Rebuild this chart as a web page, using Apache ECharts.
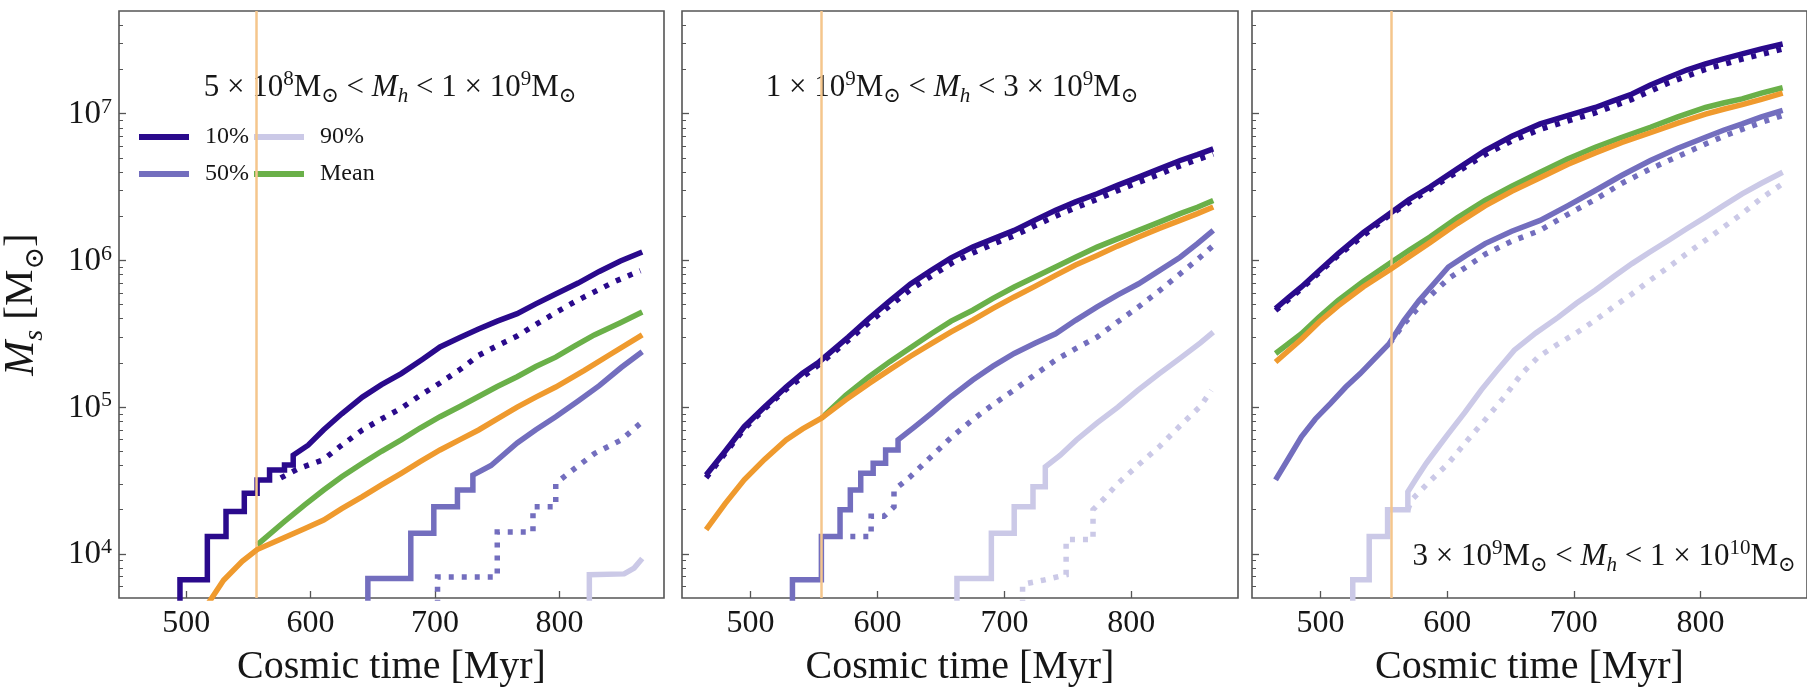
<!DOCTYPE html>
<html>
<head>
<meta charset="utf-8">
<script src="https://cdn.jsdelivr.net/npm/echarts@6/dist/echarts.min.js"></script>
<style>
  html, body { margin: 0; padding: 0; background: #ffffff; }
  #chart { width: 1807px; height: 695px; }
</style>
</head>
<body>
<div id="chart"></div>
<script>
// ---- axes ----------------------------------------------------------------
const timeTicks = [500, 600, 700, 800];          // Myr
const massDecades = [4, 5, 6, 7];                // labelled powers of ten
const timeRange = [446, 884];
const massRange = [5e3, 5e7];
const transitionTime = 556;                      // vertical marker, Myr

// ---- panel 1 : 5e8 < Mh < 1e9 ---------------------------------------------
const p1Solid10 = [[495, 4500], [495, 6650], [517, 6650], [517, 13100], [532, 13100], [532, 19400],
  [546.7, 19400], [546.7, 25900], [557, 25900], [557, 31900], [567, 31900], [567, 37200], [579, 37200],
  [579, 40300], [586, 40300], [586, 47000], [598, 55000], [610.5, 70000], [625, 90000], [641.6, 117000],
  [657, 142000], [672.8, 169000], [690, 212000], [704, 257000], [720, 298000], [735, 340000],
  [750, 385000], [766, 433000], [781, 505000], [797, 590000], [815, 700000], [832, 840000],
  [849, 990000], [866.5, 1140000]];
const p1Dotted10 = [[576, 32900], [590, 38000], [610, 43700], [625, 55000], [641.6, 69800], [657, 83000],
  [672.6, 98000], [688, 120000], [704, 146000], [720, 180000], [735, 225000], [750, 262000],
  [766, 305000], [781, 365000], [797, 440000], [812, 520000], [828, 610000], [845, 720000], [865, 850000]];
const p1Solid50 = [[646, 4500], [646, 6800], [680.5, 6800], [680.5, 13800], [699, 13800], [699, 20900],
  [718, 20900], [718, 27200], [730.4, 27200], [730.4, 34400], [745, 40000], [766, 56900], [781, 70000],
  [797, 86000], [815, 110000], [832, 140000], [849.6, 186000], [866.5, 238000]];
const p1Dotted50 = [[702, 4500], [702, 6960], [750, 6960], [750, 14100], [778.7, 14100], [778.7, 20900],
  [797, 20900], [797, 30200], [812, 38000], [828.4, 48400], [849.6, 59700], [865, 77500]];
const p1Solid90 = [[824, 4500], [824, 7200], [852, 7300], [860, 8000], [866.5, 9300]];
const p1Mean = [[557, 11500], [579, 16600], [595, 21500], [610.5, 27200], [625, 33500], [641.6, 41400],
  [657, 50000], [672.8, 59700], [688, 72000], [704, 86000], [720, 101000], [735, 118000],
  [750, 138000], [766, 161000], [781, 189000], [797, 219000], [812, 260000], [828, 310000],
  [849, 376000], [866.5, 445000]];
const p1Alt = [[517, 4500], [530, 6600], [545, 8900], [557, 10700], [579, 12900], [595, 14800],
  [610.5, 17000], [625, 20300], [641.6, 24500], [657, 29500], [672.8, 35400], [688, 42500],
  [704, 51000], [720, 60000], [735, 69800], [750, 83000], [766, 100000], [781, 117000],
  [797, 137000], [820, 178000], [841, 229000], [866.5, 310000]];

// ---- panel 2 : 1e9 < Mh < 3e9 ---------------------------------------------
const p2Solid10 = [[465, 34400], [480, 50000], [495, 73500], [511, 100000], [528, 137000], [541, 170000],
  [554, 203000], [577, 300000], [593, 400000], [609.7, 530000], [626, 690000], [642.4, 855000],
  [658, 1040000], [675, 1230000], [691, 1400000], [707.7, 1600000], [724, 1880000], [740.3, 2190000],
  [756, 2500000], [773, 2840000], [789, 3240000], [805.7, 3690000], [822, 4200000], [838.4, 4790000],
  [852, 5250000], [864.5, 5750000]];
const p2Dotted10 = [[465, 33000], [480, 48500], [495, 71000], [511, 97000], [528, 132000], [554, 195000],
  [577, 285000], [593, 375000], [609.7, 490000], [626, 630000], [642.4, 780000], [658, 950000],
  [675, 1120000], [691, 1290000], [707.7, 1470000], [724, 1720000], [740.3, 2000000], [756, 2280000],
  [773, 2600000], [789, 2980000], [805.7, 3400000], [822, 3850000], [838.4, 4400000], [852, 4850000],
  [864.5, 5300000]];
const p2Solid50 = [[533, 4500], [533, 6650], [555.8, 6650], [555.8, 13100], [570.5, 13100], [570.5, 20000],
  [578.6, 20000], [578.6, 27200], [586.8, 27200], [586.8, 35400], [596.6, 35400], [596.6, 41400],
  [606.4, 41400], [606.4, 51000], [616.2, 51000], [616.2, 59700], [629, 73000], [642.4, 90600],
  [658, 118000], [675, 153000], [691, 190000], [707.7, 232000], [724, 272000], [740.3, 316000],
  [756, 390000], [773, 482000], [789, 580000], [805.7, 692000], [822, 850000], [838.4, 1050000],
  [852, 1300000], [864.5, 1600000]];
const p2Dotted50 = [[578.6, 13100], [595, 13100], [595, 18000], [605, 18000], [613, 20900], [613, 27200],
  [625, 33000], [642.4, 46000], [658, 62000], [675, 82000], [691, 104000], [707.7, 131000],
  [724, 166000], [740.3, 209000], [756, 250000], [773, 300000], [789, 380000], [805.7, 482000],
  [822, 620000], [838.4, 810000], [852, 1010000], [864.5, 1260000]];
const p2Solid90 = [[662.6, 4500], [662.6, 6800], [689.7, 6800], [689.7, 13800], [707.7, 13800],
  [707.7, 20900], [722.5, 20900], [722.5, 28700], [732.2, 28700], [732.2, 39200], [744, 47000],
  [756.7, 59700], [773, 78000], [789.4, 100000], [805, 130000], [822, 169000], [838, 214000],
  [854.6, 275000], [864.5, 324000]];
const p2Dotted90 = [[714.3, 4500], [714.3, 6200], [730, 6600], [748.6, 7200], [748.6, 12500],
  [769.8, 12500], [769.8, 20000], [779, 24000], [789.4, 30200], [805, 40000], [822, 53700],
  [838, 74000], [854.6, 102000], [863, 130000]];
const p2Mean = [[555.8, 84000], [575, 120000], [593.4, 161000], [609.7, 204000], [626, 254000],
  [642.4, 316000], [658, 385000], [675, 457000], [691, 550000], [707.7, 658000], [724, 770000],
  [740.3, 900000], [756, 1050000], [773, 1230000], [789, 1400000], [805.7, 1600000], [822, 1820000],
  [838.4, 2080000], [852, 2300000], [864.5, 2560000]];
const p2Alt = [[465, 14600], [480, 22000], [495, 31900], [511, 44000], [528, 59700], [541, 71000],
  [555.8, 84000], [575, 112000], [593.4, 145000], [609.7, 180000], [626, 222000], [642.4, 271000],
  [658, 325000], [675, 391000], [691, 470000], [707.7, 563000], [724, 665000], [740.3, 790000],
  [756, 930000], [773, 1080000], [789, 1250000], [805.7, 1440000], [822, 1650000], [838.4, 1870000],
  [852, 2080000], [864.5, 2310000]];

// ---- panel 3 : 3e9 < Mh < 1e10 --------------------------------------------
const p3Solid10 = [[464.6, 469000], [475, 560000], [485, 658000], [499, 850000], [514, 1110000],
  [534, 1550000], [554.5, 2080000], [570, 2600000], [586.4, 3160000], [608, 4200000], [629.9, 5600000],
  [651, 7000000], [673.4, 8500000], [695, 9700000], [716.9, 11000000], [731, 12200000],
  [745.9, 13600000], [760, 15600000], [774.9, 17700000], [789, 19800000], [803.9, 21800000],
  [818, 23600000], [832.8, 25500000], [848, 27600000], [864.8, 29800000]];
const p3Dotted10 = [[464.6, 455000], [485, 640000], [514, 1080000], [554.5, 2030000], [586.4, 3050000],
  [608, 4000000], [629.9, 5250000], [651, 6500000], [673.4, 7800000], [695, 8900000],
  [716.9, 10100000], [745.9, 12500000], [774.9, 16200000], [803.9, 20000000], [832.8, 23500000],
  [864.8, 27500000]];
const p3Solid50 = [[464.6, 31900], [475, 45000], [485, 62800], [496, 83000], [508, 106000], [520, 137000],
  [531.4, 169000], [543, 215000], [554.5, 272000], [566, 390000], [577.7, 530000], [590, 700000],
  [601, 900000], [615, 1080000], [630, 1300000], [651, 1580000], [673.4, 1870000], [695, 2350000],
  [716.9, 2990000], [738, 3800000], [760.4, 4790000], [782, 5800000], [803.9, 6900000],
  [818, 7700000], [832.8, 8500000], [848, 9500000], [864.8, 10500000]];
const p3Dotted50 = [[554.5, 270000], [566, 370000], [577.7, 480000], [590, 610000], [601, 750000],
  [615, 900000], [630, 1100000], [651, 1350000], [673.4, 1600000], [695, 2050000], [716.9, 2600000],
  [738, 3350000], [760.4, 4200000], [782, 5100000], [803.9, 6200000], [818, 7000000],
  [832.8, 7800000], [848, 8700000], [864.8, 9700000]];
const p3Solid90 = [[525.5, 4500], [525.5, 6650], [538.5, 6650], [538.5, 13100], [553, 13100], [553, 20000],
  [569, 20000], [569, 26500], [576, 33000], [583.5, 41400], [592, 52000], [601, 66000], [614, 92000],
  [627, 131000], [640, 180000], [653, 244000], [670, 320000], [687.8, 410000], [702, 510000],
  [716.9, 625000], [731, 770000], [745.9, 950000], [760, 1140000], [774.9, 1370000], [789, 1640000],
  [803.9, 1970000], [818, 2360000], [832.8, 2840000], [848, 3350000], [864.8, 3980000]];
const p3Dotted90 = [[569, 20000], [572, 23300], [586, 31000], [601, 41400], [615, 58000], [630, 82000],
  [645, 117000], [658.9, 169000], [672, 220000], [687.8, 270000], [702, 320000], [716.9, 391000],
  [731, 480000], [745.9, 590000], [760, 730000], [774.9, 900000], [789, 1110000], [803.9, 1370000],
  [818, 1680000], [832.8, 2080000], [848, 2650000], [864.8, 3330000]];
const p3Mean = [[464.6, 232000], [485, 316000], [499, 410000], [514, 534000], [534, 720000],
  [554.5, 950000], [570, 1170000], [586.4, 1440000], [608, 1950000], [629.9, 2560000], [651, 3200000],
  [673.4, 3980000], [695, 4900000], [716.9, 5900000], [738, 6900000], [760.4, 8070000],
  [782, 9500000], [803.9, 11000000], [818, 11800000], [832.8, 12600000], [848, 13800000],
  [864.8, 15000000]];
const p3Alt = [[464.6, 203000], [485, 290000], [499, 380000], [514, 490000], [534, 660000],
  [554.5, 860000], [570, 1060000], [586.4, 1320000], [608, 1780000], [629.9, 2350000], [651, 2950000],
  [673.4, 3650000], [695, 4500000], [716.9, 5400000], [738, 6350000], [760.4, 7400000],
  [782, 8600000], [803.9, 9900000], [818, 10700000], [832.8, 11500000], [848, 12500000],
  [864.8, 13800000]];

// ---- panel labels (rich text) ----------------------------------------------
const panelTitles = [
  '{n|5 × 10}{sup|8}{n|M}{sub|⊙}{n| < }{it|M}{subi|h}{n| < 1 × 10}{sup|9}{n|M}{sub|⊙}',
  '{n|1 × 10}{sup|9}{n|M}{sub|⊙}{n| < }{it|M}{subi|h}{n| < 3 × 10}{sup|9}{n|M}{sub|⊙}',
  '{n|3 × 10}{sup|9}{n|M}{sub|⊙}{n| < }{it|M}{subi|h}{n| < 1 × 10}{sup|10}{n|M}{sub|⊙}'
];

const panelData = [
  { solid10: p1Solid10, dotted10: p1Dotted10, solid50: p1Solid50, dotted50: p1Dotted50,
    solid90: p1Solid90, dotted90: [], mean: p1Mean, alt: p1Alt },
  { solid10: p2Solid10, dotted10: p2Dotted10, solid50: p2Solid50, dotted50: p2Dotted50,
    solid90: p2Solid90, dotted90: p2Dotted90, mean: p2Mean, alt: p2Alt },
  { solid10: p3Solid10, dotted10: p3Dotted10, solid50: p3Solid50, dotted50: p3Dotted50,
    solid90: p3Solid90, dotted90: p3Dotted90, mean: p3Mean, alt: p3Alt }
];

// ---- layout & style --------------------------------------------------------
const panelLayout = [
  { left: 108, title: [390, 88] },
  { left: 682, title: [952, 88] },
  { left: 1252, title: [1604, 557] }
];
const GRID_TOP = 11, GRID_W = 556, GRID_H = 587;
const FONT = '"Liberation Serif", "DejaVu Serif", serif';
const INK = '#161616';
const FRAME = '#555555';
const colors = {
  p10: '#2a0a8c', p50: '#736ebe', p90: '#cbc9e7',
  mean: '#6ab049', alt: '#ef9a2e', marker: '#f5c68c'
};
const DOTS = [5, 8];

const minorTickExponents = [];
for (let k = 3; k <= 7; k++) {
  for (let m = 2; m <= 9; m++) {
    const v = m * Math.pow(10, k);
    if (v > massRange[0] && v < massRange[1]) minorTickExponents.push(Math.log10(v));
  }
}
const logMin = Math.log10(massRange[0]);
const logMax = Math.log10(massRange[1]);

const richTitle = {
  n:    { fontFamily: FONT, fontSize: 31, lineHeight: 38, color: INK },
  it:   { fontFamily: FONT, fontSize: 31, lineHeight: 38, color: INK, fontStyle: 'italic' },
  sup:  { fontFamily: FONT, fontSize: 21, lineHeight: 23, color: INK, verticalAlign: 'top' },
  sub:  { fontFamily: FONT, fontSize: 21, lineHeight: 23, color: INK, verticalAlign: 'bottom' },
  subi: { fontFamily: FONT, fontSize: 21, lineHeight: 23, color: INK, verticalAlign: 'bottom', fontStyle: 'italic' }
};

const grids = [], xAxes = [], yAxes = [], series = [], graphics = [];

panelLayout.forEach((lay, i) => {
  grids.push({
    left: lay.left, top: GRID_TOP, width: GRID_W, height: GRID_H,
    show: true, borderColor: FRAME, borderWidth: 1.6, backgroundColor: 'transparent'
  });

  xAxes.push({
    gridIndex: i, type: 'value', min: timeRange[0], max: timeRange[1],
    axisLine: { show: false }, splitLine: { show: false },
    axisTick: { inside: true, length: 7, customValues: timeTicks, lineStyle: { color: FRAME, width: 1.3 } },
    axisLabel: { customValues: timeTicks, margin: 10, fontFamily: FONT, fontSize: 32, color: INK },
    name: 'Cosmic time [Myr]', nameLocation: 'middle', nameGap: 49,
    nameTextStyle: { fontFamily: FONT, fontSize: 40, color: INK }
  });

  // data axis (log scale)
  yAxes.push({
    gridIndex: i, type: 'log', logBase: 10, min: massRange[0], max: massRange[1],
    show: false, splitLine: { show: false }
  });
  // decade ticks + labels, in log10 units
  yAxes.push({
    gridIndex: i, type: 'value', position: 'left', offset: 0, min: logMin, max: logMax,
    axisLine: { show: false }, splitLine: { show: false },
    axisTick: { inside: true, length: 7, customValues: massDecades, lineStyle: { color: FRAME, width: 1.3 } },
    axisLabel: {
      show: i === 0, customValues: massDecades, margin: 7,
      formatter: v => '{b|10}{s|' + Math.round(v) + '}',
      rich: {
        b: { fontFamily: FONT, fontSize: 33, lineHeight: 35, color: INK, verticalAlign: 'bottom' },
        s: { fontFamily: FONT, fontSize: 22, lineHeight: 22, color: INK, verticalAlign: 'top' }
      }
    },
    name: i === 0 ? '{i|M}{si|s}{n| [M}{s|⊙}{n|]}' : '',
    nameLocation: 'middle', nameGap: 70, nameRotate: 90,
    nameTextStyle: {
      rich: {
        i:  { fontFamily: FONT, fontSize: 42, lineHeight: 48, color: INK, fontStyle: 'italic', verticalAlign: 'top' },
        n:  { fontFamily: FONT, fontSize: 41, lineHeight: 48, color: INK, verticalAlign: 'top' },
        s:  { fontFamily: FONT, fontSize: 27, lineHeight: 28, color: INK, verticalAlign: 'bottom' },
        si: { fontFamily: FONT, fontSize: 28, lineHeight: 28, color: INK, verticalAlign: 'bottom', fontStyle: 'italic' }
      }
    }
  });
  // minor ticks
  yAxes.push({
    gridIndex: i, type: 'value', position: 'left', offset: 0, min: logMin, max: logMax,
    axisLine: { show: false }, splitLine: { show: false }, axisLabel: { show: false },
    axisTick: { inside: true, length: 4, customValues: minorTickExponents, lineStyle: { color: FRAME, width: 1 } }
  });

  const yIdx = i * 3;
  const d = panelData[i];
  const line = (name, data, color, dashed, z) => ({
    type: 'line', name, data, xAxisIndex: i, yAxisIndex: yIdx,
    symbol: 'none', showSymbol: false, clip: true, silent: true, z,
    itemStyle: { color },
    lineStyle: { color, width: 5.5, type: dashed ? DOTS : 'solid', cap: 'butt', join: 'miter' }
  });

  // vertical marker at the transition time
  series.push({
    type: 'line', name: 'marker', data: [], xAxisIndex: i, yAxisIndex: yIdx, z: 1, silent: true,
    markLine: {
      symbol: 'none', silent: true, label: { show: false },
      lineStyle: { color: colors.marker, width: 2.5, type: 'solid' },
      data: [{ xAxis: transitionTime }]
    }
  });

  series.push(line('10%', d.solid10, colors.p10, false, 3));
  series.push(line('50%', d.solid50, colors.p50, false, 3));
  series.push(line('90%', d.solid90, colors.p90, false, 3));
  series.push(line('10% ', d.dotted10, colors.p10, true, 2));
  series.push(line('50% ', d.dotted50, colors.p50, true, 2));
  series.push(line('90% ', d.dotted90, colors.p90, true, 2));
  series.push(line('Mean', d.mean, colors.mean, false, 4));
  series.push(line('Mean ', d.alt, colors.alt, false, 5));

  graphics.push({
    type: 'text', x: lay.title[0], y: lay.title[1], silent: true,
    style: { text: panelTitles[i], rich: richTitle, align: 'center', verticalAlign: 'middle',
             fontFamily: FONT, fontSize: 31, fill: INK }
  });
});

const legendBase = {
  left: 134, icon: 'rect', itemWidth: 50, itemHeight: 6, itemGap: 5,
  selectedMode: false, orient: 'horizontal',
  formatter: name => '{t|' + name + '}',
  textStyle: {
    fontFamily: FONT, fontSize: 24, color: INK,
    rich: { t: { fontFamily: FONT, fontSize: 24, lineHeight: 26, color: INK, padding: [0, 0, 0, 11] } }
  }
};

const chart = echarts.init(document.getElementById('chart'), null, { renderer: 'canvas' });
chart.setOption({
  animation: false,
  backgroundColor: '#ffffff',
  grid: grids,
  xAxis: xAxes,
  yAxis: yAxes,
  legend: [
    Object.assign({}, legendBase, { top: 120, data: ['10%', '90%'] }),
    Object.assign({}, legendBase, { top: 157, data: ['50%', 'Mean'] })
  ],
  graphic: graphics,
  series: series
});
</script>
</body>
</html>
